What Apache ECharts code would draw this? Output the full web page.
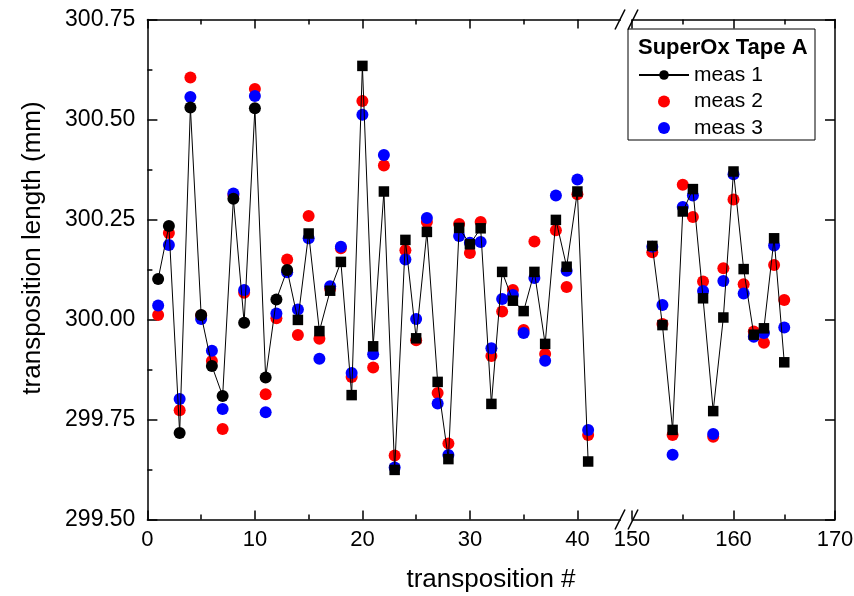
<!DOCTYPE html>
<html>
<head>
<meta charset="utf-8">
<script src="https://cdn.jsdelivr.net/npm/echarts@6/dist/echarts.min.js"></script>
<style>
  html, body { margin: 0; padding: 0; background: #fff; }
  #chart { width: 854px; height: 596px; }
</style>
</head>
<body>
<div id="chart"></div>
<script>
// Transposition numbers, first tape section (1..41) and end section (152..165)
const lowTranspositions = [1, 2, 3, 4, 5, 6, 7, 8, 9, 10, 11, 12, 13, 14, 15, 16, 17, 18, 19, 20,
  21, 22, 23, 24, 25, 26, 27, 28, 29, 30, 31, 32, 33, 34, 35, 36, 37, 38, 39, 40, 41];
const highTranspositions = [152, 153, 154, 155, 156, 157, 158, 159, 160, 161, 162, 163, 164, 165];

// Transposition length in mm, three measurements
const meas1Low = [300.101, 300.234, 299.716, 300.530, 300.011, 299.884, 299.809, 300.302, 299.992, 300.528,
  299.855, 300.050, 300.124, 299.999, 300.215, 299.971, 300.072, 300.144, 299.811, 300.634,
  299.933, 300.320, 299.624, 300.199, 299.953, 300.219, 299.844, 299.651, 300.229, 300.188,
  300.228, 299.789, 300.119, 300.047, 300.021, 300.119, 299.939, 300.249, 300.132, 300.320, 299.645];
const meas2Low = [300.011, 300.216, 299.773, 300.605, 300.010, 299.896, 299.726, 300.311, 300.067, 300.576,
  299.813, 300.003, 300.150, 299.961, 300.259, 299.952, 300.077, 300.178, 299.856, 300.546,
  299.880, 300.385, 299.660, 300.173, 299.948, 300.244, 299.816, 299.690, 300.239, 300.166,
  300.244, 299.909, 300.020, 300.074, 299.974, 300.195, 299.914, 300.223, 300.081, 300.313, 299.711];
const meas3Low = [300.035, 300.186, 299.801, 300.556, 300.001, 299.922, 299.776, 300.315, 300.074, 300.559,
  299.768, 300.015, 300.118, 300.025, 300.203, 299.902, 300.083, 300.182, 299.866, 300.512,
  299.913, 300.411, 299.630, 300.150, 300.001, 300.254, 299.790, 299.661, 300.209, 300.192,
  300.194, 299.928, 300.051, 300.061, 299.966, 300.104, 299.897, 300.310, 300.122, 300.350, 299.724];

const meas1High = [300.184, 299.986, 299.724, 300.270, 300.326, 300.053, 299.771, 300.005, 300.370, 300.126,
  299.962, 299.978, 300.203, 299.893];
const meas2High = [300.168, 299.989, 299.711, 300.337, 300.256, 300.095, 299.707, 300.128, 300.300, 300.088,
  299.970, 299.942, 300.136, 300.049];
const meas3High = [300.182, 300.036, 299.662, 300.281, 300.310, 300.071, 299.714, 300.096, 300.363, 300.065,
  299.957, 299.966, 300.185, 299.980];

// Axis tick values
const yTicks = { min: 299.5, max: 300.75, step: 0.25 };
const xLowMajor = [0, 10, 20, 30, 40];
const xLowMinor = [5, 15, 25, 35];
const xHigh = { min: 150, max: 170, step: 10 };

const FONT = '"Liberation Sans", Arial, sans-serif';
const BLACK = '#000000';
const RED = '#ff0000';
const BLUE = '#0000ff';
const circleUpTo = 13; // meas 1 uses round markers up to this transposition, square markers after

const pairs = (xs, ys) => xs.map((x, i) => [x, ys[i]]);
const meas1Items = (xs, ys) => xs.map((x, i) => ({
  value: [x, ys[i]],
  symbol: x <= circleUpTo ? 'circle' : 'rect',
  symbolSize: x <= circleUpTo ? 12 : 10.5
}));

const tickLine = { color: BLACK, width: 1.5 };
const axisLine = { show: true, onZero: false, lineStyle: { color: BLACK, width: 1.5 } };

function lowX(position, labels, ticks, minor) {
  return {
    type: 'value', gridIndex: 0, position: position, min: 0, max: 44, interval: 10,
    axisLine: minor ? { show: false } : axisLine,
    axisTick: { show: true, inside: true, length: minor ? 5 : 9, lineStyle: tickLine, customValues: ticks },
    axisLabel: labels
      ? { show: true, customValues: ticks, color: BLACK, fontFamily: FONT, fontSize: 22, margin: 9 }
      : { show: false },
    splitLine: { show: false }
  };
}
function highX(position, labels) {
  return {
    type: 'value', gridIndex: 1, position: position, min: xHigh.min, max: xHigh.max, interval: xHigh.step,
    axisLine: axisLine,
    axisTick: { show: true, inside: true, length: 9, lineStyle: tickLine },
    minorTick: { show: true, splitNumber: 2, length: 5, lineStyle: tickLine },
    axisLabel: labels
      ? { show: true, color: BLACK, fontFamily: FONT, fontSize: 22, margin: 9 }
      : { show: false },
    splitLine: { show: false }, minorSplitLine: { show: false }
  };
}

const chart = echarts.init(document.getElementById('chart'), null, { renderer: 'canvas' });

const option = {
  animation: false,
  backgroundColor: '#ffffff',
  grid: [
    { left: 147.4, top: 19.5, width: 473, height: 500, show: false, containLabel: false, outerBoundsMode: 'none' },
    { left: 632, top: 19.5, width: 203, height: 500, show: false, containLabel: false, outerBoundsMode: 'none' }
  ],
  xAxis: [
    lowX('bottom', true, xLowMajor, false),
    lowX('bottom', false, xLowMinor, true),
    lowX('top', false, xLowMajor, false),
    lowX('top', false, xLowMinor, true),
    highX('bottom', true),
    highX('top', false)
  ],
  yAxis: [
    {
      type: 'value', gridIndex: 0, position: 'left',
      min: yTicks.min, max: yTicks.max, interval: yTicks.step,
      axisLine: axisLine,
      axisTick: { show: true, inside: true, length: 10, lineStyle: tickLine },
      minorTick: { show: true, splitNumber: 2, length: 5, lineStyle: tickLine },
      axisLabel: { color: BLACK, fontFamily: FONT, fontSize: 23, margin: 12,
        formatter: v => v.toFixed(2) },
      splitLine: { show: false }, minorSplitLine: { show: false }
    },
    {
      type: 'value', gridIndex: 1, position: 'right',
      min: yTicks.min, max: yTicks.max, interval: yTicks.step,
      axisLine: axisLine,
      axisTick: { show: true, inside: true, length: 10, lineStyle: tickLine },
      axisLabel: { show: false },
      splitLine: { show: false }
    }
  ],
  legend: {
    data: ['meas 1', 'meas 2', 'meas 3'],
    orient: 'vertical', left: 638, top: 64.5, padding: 0,
    itemWidth: 50, itemHeight: 12, itemGap: 5.5,
    selectedMode: false,
    textStyle: { color: BLACK, fontFamily: FONT, fontSize: 21 }
  },
  graphic: [
    // legend frame and heading
    { type: 'rect', z: 0, shape: { x: 628, y: 29, width: 187, height: 111 },
      style: { fill: '#ffffff', stroke: BLACK, lineWidth: 1 } },
    { type: 'text', z: 10, x: 638, y: 48,
      style: { text: 'SuperOx Tape A', fill: BLACK, font: 'bold 22px ' + FONT,
        textAlign: 'left', textVerticalAlign: 'middle' } },
    // axis titles
    { type: 'text', x: 491, y: 580,
      style: { text: 'transposition #', fill: BLACK, font: '26px ' + FONT,
        textAlign: 'center', textVerticalAlign: 'middle' } },
    { type: 'text', x: 33, y: 248, rotation: Math.PI / 2,
      style: { text: 'transposition length (mm)', fill: BLACK, font: '26px ' + FONT,
        textAlign: 'center', textVerticalAlign: 'middle' } },
    // axis break marks, bottom and top
    { type: 'line', z: 10, shape: { x1: 615, y1: 529.5, x2: 625, y2: 509.5 }, style: { stroke: BLACK, lineWidth: 1.5 } },
    { type: 'line', z: 10, shape: { x1: 628, y1: 529.5, x2: 638, y2: 509.5 }, style: { stroke: BLACK, lineWidth: 1.5 } },
    { type: 'line', z: 10, shape: { x1: 615, y1: 29.5, x2: 625, y2: 9.5 }, style: { stroke: BLACK, lineWidth: 1.5 } },
    { type: 'line', z: 10, shape: { x1: 628, y1: 29.5, x2: 638, y2: 9.5 }, style: { stroke: BLACK, lineWidth: 1.5 } }
  ],
  series: [
    { name: 'meas 1', type: 'line', xAxisIndex: 0, yAxisIndex: 0,
      data: meas1Items(lowTranspositions, meas1Low),
      symbol: 'circle', symbolSize: 12, showAllSymbol: true,
      lineStyle: { color: BLACK, width: 1 }, itemStyle: { color: BLACK } },
    { name: 'meas 2', type: 'scatter', xAxisIndex: 0, yAxisIndex: 0,
      data: pairs(lowTranspositions, meas2Low), symbol: 'circle', symbolSize: 12,
      itemStyle: { color: RED, opacity: 1 } },
    { name: 'meas 3', type: 'scatter', xAxisIndex: 0, yAxisIndex: 0,
      data: pairs(lowTranspositions, meas3Low), symbol: 'circle', symbolSize: 12,
      itemStyle: { color: BLUE, opacity: 1 } },
    { name: 'meas 1', type: 'line', xAxisIndex: 4, yAxisIndex: 1,
      data: meas1Items(highTranspositions, meas1High),
      symbol: 'circle', symbolSize: 12, showAllSymbol: true,
      lineStyle: { color: BLACK, width: 1 }, itemStyle: { color: BLACK } },
    { name: 'meas 2', type: 'scatter', xAxisIndex: 4, yAxisIndex: 1,
      data: pairs(highTranspositions, meas2High), symbol: 'circle', symbolSize: 12,
      itemStyle: { color: RED, opacity: 1 } },
    { name: 'meas 3', type: 'scatter', xAxisIndex: 4, yAxisIndex: 1,
      data: pairs(highTranspositions, meas3High), symbol: 'circle', symbolSize: 12,
      itemStyle: { color: BLUE, opacity: 1 } }
  ]
};

chart.setOption(option);
</script>
</body>
</html>
